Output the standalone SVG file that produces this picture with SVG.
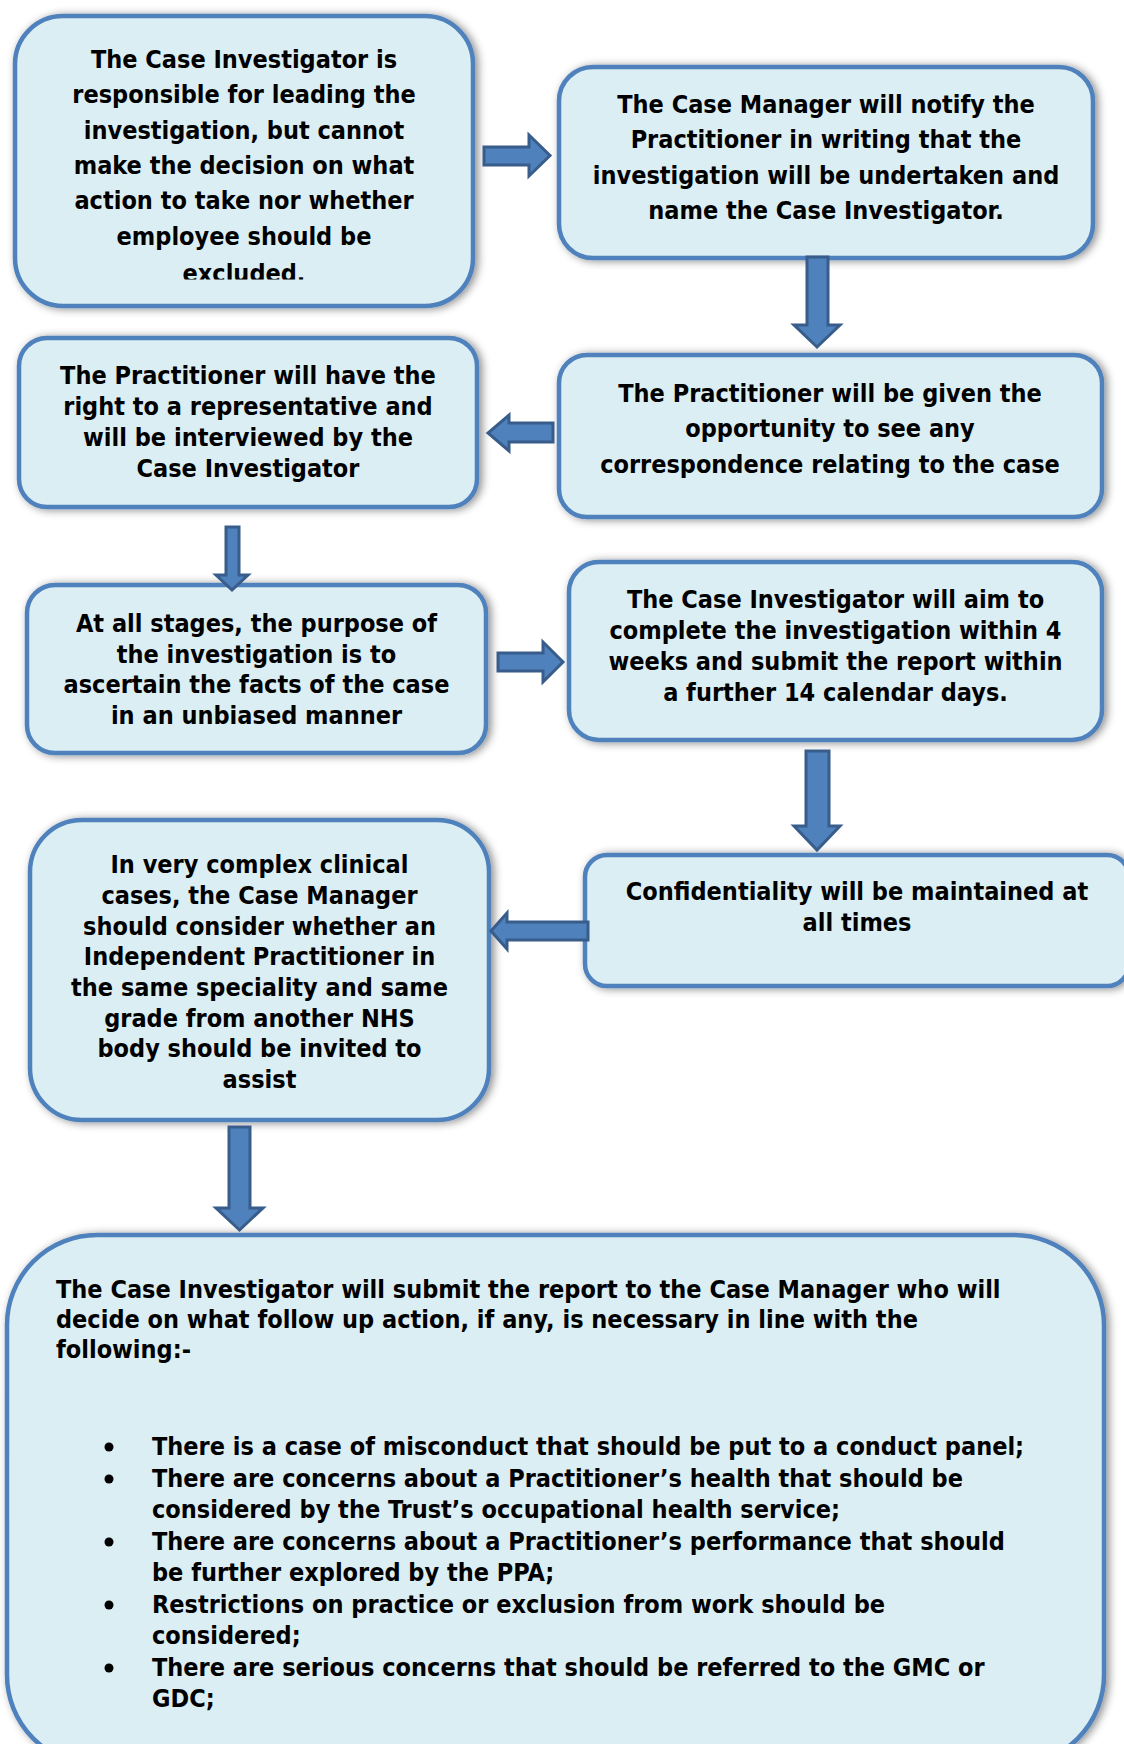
<svg xmlns="http://www.w3.org/2000/svg" width="1124" height="1744" viewBox="0 0 1124 1744">
<style>
.box{fill:#DBEEF3;stroke:#4F81BD;stroke-width:4.5}
.arr{fill:#4F81BD;stroke:#385D8A;stroke-width:3;stroke-linejoin:miter}
.t{font-family:'DejaVu Sans Condensed','DejaVu Sans',sans-serif;font-stretch:condensed;font-weight:bold;font-size:25px;fill:#000;text-anchor:middle}
.l{font-family:'DejaVu Sans Condensed','DejaVu Sans',sans-serif;font-stretch:condensed;font-weight:bold;font-size:25px;fill:#000}
</style>
<defs>
<filter id="sh" x="-10%" y="-15%" width="125%" height="135%">
<feDropShadow dx="3" dy="1" stdDeviation="4.5" flood-color="#000" flood-opacity="0.45"/>
</filter>
<clipPath id="clip1"><rect x="0" y="0" width="500" height="279.5"/></clipPath>
</defs>
<rect width="1124" height="1744" fill="#fff"/>

<g id="n1">
<rect class="box" filter="url(#sh)" x="15" y="16" width="458" height="290" rx="48"/>
<text class="t" x="244" y="68">The Case Investigator is</text>
<text class="t" x="244" y="103.3">responsible for leading the</text>
<text class="t" x="244" y="138.6">investigation, but cannot</text>
<text class="t" x="244" y="173.9">make the decision on what</text>
<text class="t" x="244" y="209.2">action to take nor whether</text>
<text class="t" x="244" y="244.5">employee should be</text>
<text class="t" x="244" y="281.5" clip-path="url(#clip1)">excluded.</text>
</g>

<g id="n2">
<rect class="box" filter="url(#sh)" x="559" y="67" width="534" height="191" rx="34"/>
<text class="t" x="826" y="112.7">The Case Manager will notify the</text>
<text class="t" x="826" y="148.2">Practitioner in writing that the</text>
<text class="t" x="826" y="183.7">investigation will be undertaken and</text>
<text class="t" x="826" y="219.2">name the Case Investigator.</text>
</g>

<g id="n3">
<rect class="box" filter="url(#sh)" x="559" y="355" width="543" height="162" rx="28"/>
<text class="t" x="830" y="401.7">The Practitioner will be given the</text>
<text class="t" x="830" y="437.2">opportunity to see any</text>
<text class="t" x="830" y="472.7">correspondence relating to the case</text>
</g>

<g id="n4">
<rect class="box" filter="url(#sh)" x="19" y="338" width="458" height="169" rx="28"/>
<text class="t" x="248" y="384.3">The Practitioner will have the</text>
<text class="t" x="248" y="415.3">right to a representative and</text>
<text class="t" x="248" y="446.3">will be interviewed by the</text>
<text class="t" x="248" y="477.3">Case Investigator</text>
</g>

<g id="n5">
<rect class="box" filter="url(#sh)" x="27" y="585" width="459" height="168" rx="28"/>
<text class="t" x="256.5" y="631.7">At all stages, the purpose of</text>
<text class="t" x="256.5" y="662.5">the investigation is to</text>
<text class="t" x="256.5" y="693.3">ascertain the facts of the case</text>
<text class="t" x="256.5" y="724">in an unbiased manner</text>
</g>

<g id="n6">
<rect class="box" filter="url(#sh)" x="569" y="562" width="533" height="178" rx="30"/>
<text class="t" x="835.5" y="608.3">The Case Investigator will aim to</text>
<text class="t" x="835.5" y="639.3">complete the investigation within 4</text>
<text class="t" x="835.5" y="670.3">weeks and submit the report within</text>
<text class="t" x="835.5" y="701">a further 14 calendar days.</text>
</g>

<g id="n7">
<rect class="box" filter="url(#sh)" x="585" y="855" width="544" height="131" rx="22"/>
<text class="t" x="857" y="900">Confidentiality will be maintained at</text>
<text class="t" x="857" y="930.7">all times</text>
</g>

<g id="n8">
<rect class="box" filter="url(#sh)" x="30" y="820" width="459" height="300" rx="52"/>
<text class="t" x="259.5" y="873.3">In very complex clinical</text>
<text class="t" x="259.5" y="904">cases, the Case Manager</text>
<text class="t" x="259.5" y="934.7">should consider whether an</text>
<text class="t" x="259.5" y="965.4">Independent Practitioner in</text>
<text class="t" x="259.5" y="996">the same speciality and same</text>
<text class="t" x="259.5" y="1026.7">grade from another NHS</text>
<text class="t" x="259.5" y="1057.4">body should be invited to</text>
<text class="t" x="259.5" y="1088">assist</text>
</g>

<g id="n9">
<rect class="box" filter="url(#sh)" x="7" y="1235" width="1097" height="530" rx="90"/>
<text class="l" x="56" y="1298.3">The Case Investigator will submit the report to the Case Manager who will</text>
<text class="l" x="56" y="1328.3">decide on what follow up action, if any, is necessary in line with the</text>
<text class="l" x="56" y="1358.3">following:-</text>
<g fill="#000">
<circle cx="109" cy="1447" r="4.5"/>
<circle cx="109" cy="1479" r="4.5"/>
<circle cx="109" cy="1542" r="4.5"/>
<circle cx="109" cy="1605" r="4.5"/>
<circle cx="109" cy="1668" r="4.5"/>
</g>
<text class="l" x="152" y="1455">There is a case of misconduct that should be put to a conduct panel;</text>
<text class="l" x="152" y="1486.7">There are concerns about a Practitioner’s health that should be</text>
<text class="l" x="152" y="1517.7">considered by the Trust’s occupational health service;</text>
<text class="l" x="152" y="1550">There are concerns about a Practitioner’s performance that should</text>
<text class="l" x="152" y="1580.7">be further explored by the PPA;</text>
<text class="l" x="152" y="1613.3">Restrictions on practice or exclusion from work should be</text>
<text class="l" x="152" y="1644">considered;</text>
<text class="l" x="152" y="1676">There are serious concerns that should be referred to the GMC or</text>
<text class="l" x="152" y="1706.7">GDC;</text>
</g>

<g id="connectors">
<polygon class="arr" points="484,147 529,147 529,135 550,155.5 529,176 529,165 484,165"/>
<polygon class="arr" points="807,257 828,257 828,325 840,325 817,347 794,325 807,325"/>
<polygon class="arr" points="553,423 509,423 509,415 488,433 509,451 509,442 553,442"/>
<polygon class="arr" points="226,527 239,527 239,575 248,575 232,590 216,575 226,575"/>
<polygon class="arr" points="498,653 543,653 543,642 563,662 543,682 543,671 498,671"/>
<polygon class="arr" points="806,751 829,751 829,826 840,826 817,850 794,826 806,826"/>
<polygon class="arr" points="588,922 507,922 507,913 491,931 507,949 507,940 588,940"/>
<polygon class="arr" points="229,1127 250,1127 250,1208 263,1208 239.5,1230 216,1208 229,1208"/>
</g>
</svg>
